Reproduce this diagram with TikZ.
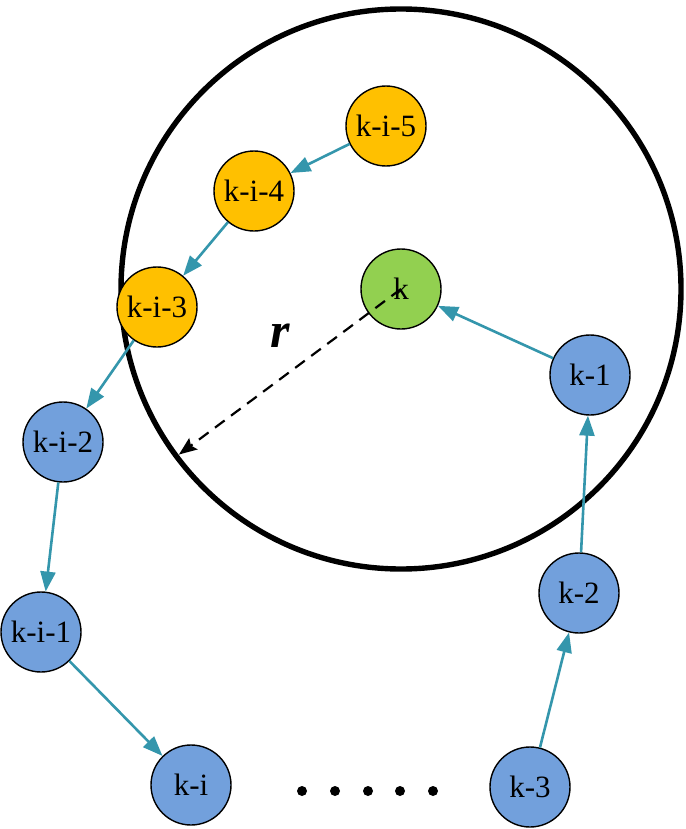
\documentclass[tikz,border=0pt]{standalone}
\usepackage{fontspec}
\setmainfont{Liberation Serif}
\usetikzlibrary{arrows.meta,calc}
\definecolor{nodeorange}{RGB}{255,192,0}
\definecolor{nodegreen}{RGB}{146,208,80}
\definecolor{nodeblue}{RGB}{114,160,220}
\definecolor{linkteal}{RGB}{52,150,172}
\tikzset{
  agent/.style={circle, draw=black, line width=0.7pt, minimum size=40pt,
    inner sep=0pt, font=\fontsize{15.5}{17}\selectfont},
  inside/.style={agent, fill=nodeorange},
  outside/.style={agent, fill=nodeblue},
  current/.style={agent, fill=nodegreen},
  link/.style={-{Triangle[length=10pt,width=7.5pt]}, line width=1.3pt, draw=linkteal},
  rline/.style={-{Stealth[length=9pt,width=7pt,inset=1.5pt]}, line width=1.1pt,
    dash pattern=on 6pt off 4pt},
  bigdot/.style={circle, fill=black, inner sep=0pt, minimum size=5pt}
}

\begin{document}
\begin{tikzpicture}[x=0.5pt, y=-0.5pt]
  \useasboundingbox (0,0) rectangle (685,829);

  % neighbourhood of radius r round k
  \node[current] (k) at (401,289) {k};
  \draw[line width=2.7pt] (k.center) circle (280);

  % positions inside the circle
  \node[inside] (ki5) at (386,126) {k-i-5};
  \node[inside] (ki4) at (254,191) {k-i-4};
  \node[inside] (ki3) at (157,307) {k-i-3};

  % positions outside
  \node[outside] (ki2) at (63,442) {k-i-2};
  \node[outside] (ki1) at (41,632) {k-i-1};
  \node[outside] (ki) at (191,785) {k-i};
  \node[outside] (k3) at (530,787) {k-3};
  \node[outside] (k2) at (579,593) {k-2};
  \node[outside] (k1) at (590,375) {k-1};

  \foreach \x [count=\n] in {302,335,368,400,433}
    \node[bigdot] (gap\n) at (\x,791) {};

  \draw[link] (ki5) -- (ki4);
  \draw[link] (ki4) -- (ki3);
  \draw[link] (ki3) -- (ki2);
  \draw[link] (ki2) -- (ki1);
  \draw[link] (ki1) -- (ki);
  \draw[link] (k3) -- (k2);
  \draw[link] (k2) -- (k1);
  \draw[link] (k1) -- (k);

  \coordinate (rim) at ($(k.center)+(143.3:277)$);
  \draw[rline] (k.center) -- (rim);
  \node[font=\fontsize{25}{28}\selectfont\bfseries\itshape] (rlabel) at (280,336) {r};
\end{tikzpicture}
\end{document}
